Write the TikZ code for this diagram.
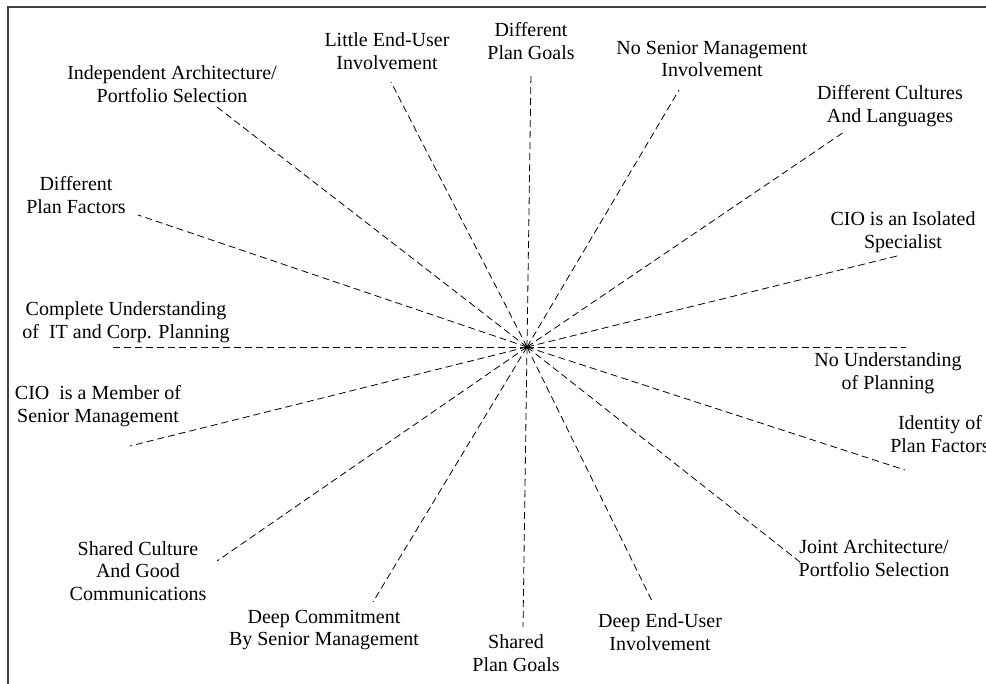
\documentclass[tikz,border=0pt]{standalone}
\usepackage{fontspec}
\setmainfont{Liberation Serif}
\begin{document}
\begin{tikzpicture}[x=1pt,y=-1pt,
  lbl/.style={align=center,inner sep=0pt,font=\fontsize{20}{22.5}\selectfont},
  ray/.style={dashed,dash pattern=on 7pt off 4pt,line width=0.8pt},
  frame/.style={line width=1.5pt,draw=black!75}]
\useasboundingbox (0,0) rectangle (986,684);
\draw[frame] (986,7) -- (8,7) -- (8,684);
\coordinate (c) at (527,347);
% outer ends
\coordinate (e1) at (217,107);
\coordinate (e2) at (138,215);
\coordinate (e3) at (391,82);
\coordinate (e4) at (531,74);
\coordinate (e5) at (679,90);
\coordinate (e6) at (844,132);
\coordinate (e7) at (897,256);
\coordinate (e8) at (906,347);
\coordinate (e9) at (113,347);
\coordinate (e10) at (130,446);
\coordinate (e11) at (905,470);
\coordinate (e12) at (800,562);
\coordinate (e13) at (217,561);
\coordinate (e14) at (373,602);
\coordinate (e15) at (523,627);
\coordinate (e16) at (653,603);
\foreach \i in {1,...,16} \draw[ray] (c) -- (e\i);
% labels
\node[lbl] (t1) at (172,84) {Independent Architecture/\\Portfolio Selection};
\node[lbl] (t2) at (76,195) {Different\\Plan Factors};
\node[lbl] (t3) at (387,51) {Little End-User\\Involvement};
\node[lbl] (t4) at (531,41) {Different\\Plan Goals};
\node[lbl] (t5) at (712,59) {No Senior Management\\Involvement};
\node[lbl] (t6) at (890,106) {Different Cultures\\And Languages};
\node[lbl] (t7) at (903,232) {CIO is an Isolated\\Specialist};
\node[lbl] (t8) at (888,373) {No Understanding\\of Planning};
\node[lbl] (t9) at (126,322) {Complete Understanding\\of \ IT and Corp. Planning};
\node[lbl] (t10) at (98,406) {CIO \ is a Member of\\Senior Management};
\node[lbl] (t11) at (940,434) {Identity of\\Plan Factors};
\node[lbl] (t12) at (874,558) {Joint Architecture/\\Portfolio Selection};
\node[lbl] (t13) at (138,571) {Shared Culture\\And Good\\Communications};
\node[lbl] (t14) at (324,630) {Deep Commitment\\By Senior Management};
\node[lbl] (t15) at (516,653) {Shared\\Plan Goals};
\node[lbl] (t16) at (660,632) {Deep End-User\\Involvement};
\end{tikzpicture}
\end{document}
